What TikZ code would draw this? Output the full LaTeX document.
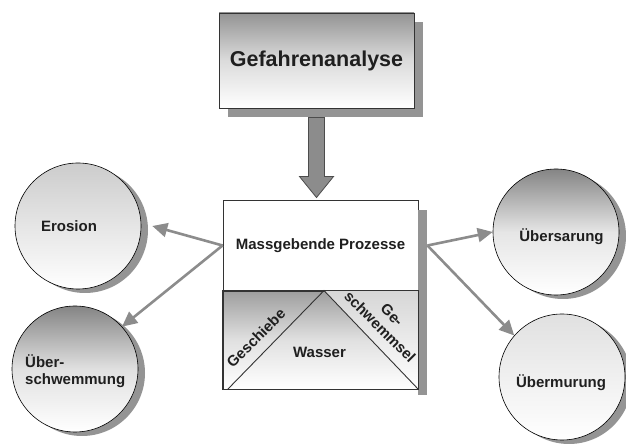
\documentclass[tikz,border=0pt]{standalone}
\usepackage{fontspec}
\setmainfont{Liberation Sans}
\usetikzlibrary{arrows.meta}
\usetikzlibrary{shadows}
\definecolor{schatten}{gray}{0.58}
\definecolor{pfeilgrau}{gray}{0.55}
\definecolor{schrift}{gray}{0.12}
\tikzstyle{kasten}=[draw=black!80, line width=0.9pt, inner sep=0pt, text=schrift]
\tikzstyle{prozess}=[circle, draw=black, line width=0.6pt, minimum size=126pt, inner sep=0pt, drop shadow={shadow xshift=7pt, shadow yshift=-4pt, fill=schatten, opacity=1}]
\tikzstyle{beschriftung}=[text=schrift, font=\fontsize{15}{17}\selectfont\bfseries, inner sep=0pt]
\tikzstyle{verbindung}=[pfeilgrau, line width=2.6pt, -{Triangle[length=15pt,width=14pt]}]
\tikzstyle{dickpfeil}=[fill=black!45, draw=black!70, line width=0.8pt]
\tikzstyle{teilung}=[draw=black!80, line width=0.9pt]

\begin{document}
\begin{tikzpicture}[x=1pt, y=1pt]
      \useasboundingbox (0, 0) rectangle (626, 446);

      \node[kasten, minimum width=195pt, minimum height=95pt, top color=black!42, bottom color=white, middle color=black!14,
        drop shadow={shadow xshift=9pt, shadow yshift=-9pt, fill=schatten, opacity=1},
        font=\fontsize{21.5}{24}\selectfont\bfseries] (gefahr) at (316.5, 385.5) {Gefahrenanalyse};

      \node[kasten, minimum width=195pt, minimum height=91pt, fill=white, font=\fontsize{15}{17}\selectfont\bfseries] (prozesse) at (320.5, 200.5) {Massgebende Prozesse};
      \node[kasten, minimum width=195pt, minimum height=98pt, top color=black!38, bottom color=white, middle color=black!12] (unten) at (320.5, 106) {};
      \fill[schatten] ([yshift=-10pt]prozesse.north east) rectangle ([xshift=9pt, yshift=-6pt]unten.south east);

      \coordinate (spitze) at ([yshift=2pt]gefahr.south |- prozesse.north);
      \filldraw[dickpfeil] ([xshift=-8pt, yshift=-9pt]gefahr.south) -- ([xshift=-8pt, yshift=21pt]spitze)
        -- ([xshift=-17pt, yshift=21pt]spitze) -- (spitze) -- ([xshift=17pt, yshift=21pt]spitze)
        -- ([xshift=8pt, yshift=21pt]spitze) -- ([xshift=8pt, yshift=-9pt]gefahr.south) -- cycle;

      \coordinate (apex) at ([xshift=3.5pt]unten.north);
      \coordinate (fuss) at ([xshift=5pt]unten.south west);
      \shade[top color=black!16, bottom color=white] (apex) -- (unten.north east) -- (unten.south east) -- cycle;
      \draw[teilung] (fuss) -- (apex) -- (unten.south east);
      \draw[teilung] (unten.north west) rectangle (unten.south east);

      \node[beschriftung, rotate=45] (geschiebe) at (256, 108) {Geschiebe};
      \node[beschriftung] (wasser) at (319.5, 94) {Wasser};
      \node[beschriftung, rotate=-45, align=center] (geschwemmsel) at (386, 125) {Ge-\\schwemmsel};

      \node[prozess, top color=black!20, bottom color=white] (erosion) at (78, 220) {};
      \node[beschriftung] at (69, 220) {Erosion};
      \node[prozess, top color=black!48, bottom color=white, middle color=black!12] (ueberschwemmung) at (75, 77) {};
      \node[beschriftung, anchor=west, align=left] at (25, 74.5) {Über-\\schwemmung};
      \node[prozess, top color=black!48, bottom color=white, middle color=black!10] (uebersarung) at (556, 214) {};
      \node[beschriftung] at (561.5, 209) {Übersarung};
      \node[prozess, top color=black!12, bottom color=white] (uebermurung) at (562, 69) {};
      \node[beschriftung] at (561, 63) {Übermurung};

      \coordinate (links) at (prozesse.west);
      \coordinate (rechts) at ([xshift=9pt]prozesse.east);

      \draw[verbindung] (links) to ([xshift=11pt]erosion.east);
      \draw[verbindung] (links) to (ueberschwemmung.42);
      \draw[verbindung] (rechts) to (uebersarung.west);
      \draw[verbindung] (rechts) to (uebermurung.139);
    \end{tikzpicture}
\end{document}
